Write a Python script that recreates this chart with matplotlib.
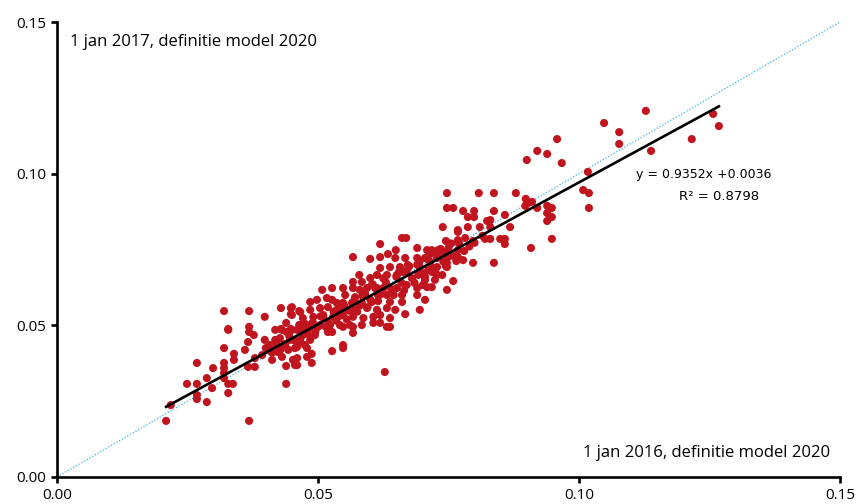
import matplotlib
matplotlib.use("Agg")
import matplotlib.pyplot as plt
import numpy as np

# 1 jan 2016 (x) vs 1 jan 2017 (y), definitie model 2020
x_2016 = [
    0.0209, 0.0218, 0.0249, 0.0268, 0.0268, 0.0268, 0.0287, 0.0297, 0.0287, 0.0268,
    0.0299, 0.0320, 0.0320, 0.0320, 0.0320, 0.0328, 0.0337, 0.0328, 0.0320, 0.0328,
    0.0339, 0.0339, 0.0360, 0.0366, 0.0368, 0.0368, 0.0377, 0.0379, 0.0366, 0.0379,
    0.0368, 0.0439, 0.0439,
    0.0398, 0.0408, 0.0418, 0.0427, 0.0437, 0.0446, 0.0404, 0.0423, 0.0443, 0.0456,
    0.0431, 0.0452, 0.0456, 0.0393, 0.0412, 0.0418, 0.0431, 0.0450,
    0.0320, 0.0368, 0.0398, 0.0429, 0.0448, 0.0448, 0.0464, 0.0328, 0.0439, 0.0429,
    0.0448, 0.0464,
    0.0460, 0.0471, 0.0481, 0.0491, 0.0466, 0.0485, 0.0494, 0.0475, 0.0460, 0.0479,
    0.0460, 0.0460, 0.0479, 0.0488, 0.0488, 0.0527, 0.0548, 0.0548, 0.0519, 0.0527,
    0.0548, 0.0567, 0.0567, 0.0638, 0.0628,
    0.0661, 0.0669, 0.0619, 0.0649, 0.0690, 0.0709, 0.0567, 0.0600, 0.0619, 0.0634,
    0.0648, 0.0667, 0.0690, 0.0638, 0.0657, 0.0672, 0.0695, 0.0619, 0.0579,
    0.0600, 0.0613, 0.0632, 0.0651, 0.0663, 0.0692, 0.0567, 0.0584, 0.0603,
    0.0548, 0.0567, 0.0580, 0.0594, 0.0613, 0.0625, 0.0651, 0.0670, 0.0690, 0.0701,
    0.0508, 0.0527,
    0.0552, 0.0571, 0.0590, 0.0615, 0.0632, 0.0661, 0.0690,
    0.0485, 0.0498, 0.0517, 0.0527, 0.0536,
    0.0548, 0.0565, 0.0584, 0.0603, 0.0638, 0.0661,
    0.0450, 0.0466, 0.0485, 0.0504, 0.0519, 0.0536,
    0.0552, 0.0571, 0.0594, 0.0613, 0.0632, 0.0648, 0.0667,
    0.0450, 0.0471, 0.0491, 0.0510, 0.0529, 0.0548, 0.0567, 0.0587, 0.0606, 0.0619, 0.0638,
    0.0469, 0.0485, 0.0504, 0.0523, 0.0542, 0.0561, 0.0584, 0.0606, 0.0619, 0.0632,
    0.0705, 0.0695,
    0.0739, 0.0787, 0.0810, 0.0830, 0.0868, 0.0768,
    0.0745, 0.0768, 0.0782, 0.0797, 0.0820, 0.0830, 0.0849, 0.0858, 0.0858, 0.0948, 0.0908,
    0.0718, 0.0730, 0.0743, 0.0768, 0.0705, 0.0728, 0.0749, 0.0768, 0.0778,
    0.0797, 0.0837, 0.0747, 0.0747, 0.0728, 0.0718, 0.0728, 0.0738,
    0.0705, 0.0718, 0.0709, 0.0759, 0.0747, 0.0715, 0.0724, 0.0711,
    0.0958, 0.0920, 0.0939, 0.0900, 0.0967,
    0.0747, 0.0808, 0.0837, 0.0879, 0.0898, 0.0902, 0.0897, 0.0910,
    0.0747, 0.0759, 0.0778, 0.0799, 0.0837, 0.0787, 0.0799, 0.0858,
    0.0920, 0.0939, 0.0948, 0.0939, 0.0948, 0.0939, 0.0824, 0.0830, 0.0768,
    0.1128, 0.1257, 0.1268, 0.1048, 0.1077, 0.1077, 0.1216, 0.1138,
    0.1017, 0.1008, 0.1019, 0.1019,
    # dense core along the trend
    0.0420, 0.0435, 0.0445, 0.0455, 0.0470, 0.0480, 0.0490, 0.0500, 0.0510, 0.0520,
    0.0530, 0.0540, 0.0550, 0.0560, 0.0570, 0.0580, 0.0590, 0.0600, 0.0610, 0.0620,
    0.0630, 0.0640, 0.0650, 0.0660, 0.0670, 0.0680, 0.0690, 0.0700, 0.0710, 0.0720,
    0.0730, 0.0740, 0.0750, 0.0760, 0.0770,
    0.0400, 0.0412, 0.0428, 0.0440, 0.0462, 0.0475, 0.0495, 0.0505, 0.0515, 0.0535,
    0.0545, 0.0555, 0.0575, 0.0585, 0.0595, 0.0605, 0.0615, 0.0625, 0.0645, 0.0655,
    0.0665, 0.0675, 0.0685, 0.0695, 0.0705, 0.0715, 0.0725, 0.0735, 0.0745, 0.0755,
    0.0765, 0.0780, 0.0790, 0.0800, 0.0815,
]
y_2017 = [
    0.0185, 0.0237, 0.0307, 0.0307, 0.0270, 0.0257, 0.0247, 0.0293, 0.0326, 0.0376,
    0.0359, 0.0376, 0.0359, 0.0343, 0.0326, 0.0307, 0.0307, 0.0277, 0.0425, 0.0485,
    0.0406, 0.0386, 0.0419, 0.0445, 0.0495, 0.0478, 0.0468, 0.0392, 0.0363, 0.0363,
    0.0185, 0.0307, 0.0366,
    0.0452, 0.0435, 0.0452, 0.0458, 0.0435, 0.0452, 0.0419, 0.0412, 0.0419, 0.0425,
    0.0396, 0.0386, 0.0369, 0.0402, 0.0386, 0.0485, 0.0485, 0.0485,
    0.0547, 0.0547, 0.0528, 0.0557, 0.0557, 0.0537, 0.0547, 0.0488, 0.0508, 0.0488,
    0.0488, 0.0501,
    0.0485, 0.0468, 0.0485, 0.0495, 0.0452, 0.0452, 0.0468, 0.0435, 0.0429, 0.0425,
    0.0392, 0.0369, 0.0396, 0.0406, 0.0376, 0.0415, 0.0435, 0.0425, 0.0478, 0.0478,
    0.0495, 0.0495, 0.0475, 0.0495, 0.0346,
    0.0788, 0.0788, 0.0768, 0.0748, 0.0755, 0.0748, 0.0725, 0.0719, 0.0725, 0.0735,
    0.0722, 0.0722, 0.0722, 0.0692, 0.0692, 0.0699, 0.0692, 0.0689, 0.0666,
    0.0656, 0.0666, 0.0666, 0.0666, 0.0676, 0.0666, 0.0643, 0.0643, 0.0633,
    0.0623, 0.0623, 0.0617, 0.0623, 0.0623, 0.0623, 0.0623, 0.0633, 0.0623, 0.0633,
    0.0617, 0.0623,
    0.0600, 0.0593, 0.0600, 0.0600, 0.0600, 0.0600, 0.0600,
    0.0577, 0.0584, 0.0590, 0.0584, 0.0574,
    0.0574, 0.0574, 0.0574, 0.0577, 0.0577, 0.0577,
    0.0560, 0.0544, 0.0551, 0.0557, 0.0560, 0.0551,
    0.0557, 0.0551, 0.0557, 0.0551, 0.0557, 0.0551, 0.0537,
    0.0534, 0.0524, 0.0528, 0.0534, 0.0528, 0.0534, 0.0528, 0.0524, 0.0528, 0.0534, 0.0524,
    0.0501, 0.0501, 0.0501, 0.0501, 0.0501, 0.0501, 0.0501, 0.0508, 0.0508, 0.0495,
    0.0584, 0.0551,
    0.0824, 0.0824, 0.0824, 0.0824, 0.0824, 0.0808,
    0.0778, 0.0781, 0.0788, 0.0778, 0.0785, 0.0785, 0.0785, 0.0785, 0.0768, 0.0785, 0.0755,
    0.0748, 0.0748, 0.0742, 0.0748, 0.0722, 0.0722, 0.0725, 0.0725, 0.0715,
    0.0706, 0.0706, 0.0706, 0.0692, 0.0692, 0.0676, 0.0666, 0.0666,
    0.0650, 0.0626, 0.0626, 0.0646, 0.0617, 0.0709, 0.0650, 0.0682,
    0.1114, 0.1075, 0.1065, 0.1045, 0.1035,
    0.0936, 0.0936, 0.0936, 0.0936, 0.0917, 0.0903, 0.0894, 0.0907,
    0.0887, 0.0887, 0.0877, 0.0877, 0.0877, 0.0857, 0.0857, 0.0864,
    0.0887, 0.0894, 0.0887, 0.0870, 0.0857, 0.0844, 0.0844, 0.0847, 0.0814,
    0.1207, 0.1197, 0.1157, 0.1167, 0.1137, 0.1098, 0.1114, 0.1075,
    0.1006, 0.0946, 0.0936, 0.0887,
    # dense core along the trend
    0.0440, 0.0438, 0.0465, 0.0450, 0.0490, 0.0472, 0.0510, 0.0495, 0.0525, 0.0508,
    0.0545, 0.0530, 0.0565, 0.0548, 0.0585, 0.0565, 0.0605, 0.0585, 0.0622, 0.0602,
    0.0642, 0.0620, 0.0660, 0.0640, 0.0680, 0.0655, 0.0700, 0.0672, 0.0718, 0.0690,
    0.0735, 0.0710, 0.0755, 0.0728, 0.0770,
    0.0425, 0.0410, 0.0420, 0.0478, 0.0440, 0.0505, 0.0480, 0.0530, 0.0495, 0.0515,
    0.0560, 0.0520, 0.0545, 0.0598, 0.0560, 0.0635, 0.0580, 0.0655, 0.0600, 0.0675,
    0.0615, 0.0695, 0.0640, 0.0712, 0.0660, 0.0735, 0.0672, 0.0752, 0.0695, 0.0770,
    0.0712, 0.0745, 0.0760, 0.0772, 0.0795,
]

slope = 0.9352
intercept = 0.0036
eq_label = "y = 0.9352x +0.0036"
r2_label = "R² = 0.8798"
ticks = [0.00, 0.05, 0.10, 0.15]
tick_labels = ["0.00", "0.05", "0.10", "0.15"]
y_title = "1 jan 2017, definitie model 2020"
x_title = "1 jan 2016, definitie model 2020"

plt.rcParams['font.family'] = ['Open Sans', 'DejaVu Sans']

fig = plt.figure(figsize=(8.57, 5.04), dpi=100)
ax = fig.add_axes([57/857, 27/504, (840-57)/857, (477-22)/504])

x = np.array(x_2016)
y = np.array(y_2017)

ax.plot([0, 0.15], [0, 0.15], linestyle=(0, (1, 1.5)), color='#33B5E5', lw=0.9, zorder=1)
ax.scatter(x, y, s=34, color='#C0141F', edgecolors='none', zorder=2)
xr = np.array([x.min(), x.max()])
ax.plot(xr, slope * xr + intercept, color='black', lw=1.9, zorder=3)

ax.set_xlim(0, 0.15)
ax.set_ylim(0, 0.15)
ax.set_xticks(ticks)
ax.set_xticklabels(tick_labels)
ax.set_yticks(ticks)
ax.set_yticklabels(tick_labels)
for s in ['top', 'right']:
    ax.spines[s].set_visible(False)
for s in ['left', 'bottom']:
    ax.spines[s].set_linewidth(1.9)
ax.tick_params(axis='both', direction='out', length=4, width=1.9, labelsize=11)
ax.tick_params(axis='x', pad=4)
ax.tick_params(axis='y', pad=4)

ax.text(0.0025, 0.1434, y_title, ha='left', va='center', fontsize=12)
ax.text(0.1481, 0.0079, x_title, ha='right', va='center', fontsize=12)
ax.text(0.1239, 0.0996, eq_label, ha='center', va='center', fontsize=9,
        family='DejaVu Sans')
ax.text(0.1268, 0.0926, r2_label, ha='center', va='center', fontsize=9.5,
        family='DejaVu Sans')

fig.savefig("out.png", dpi=100)
